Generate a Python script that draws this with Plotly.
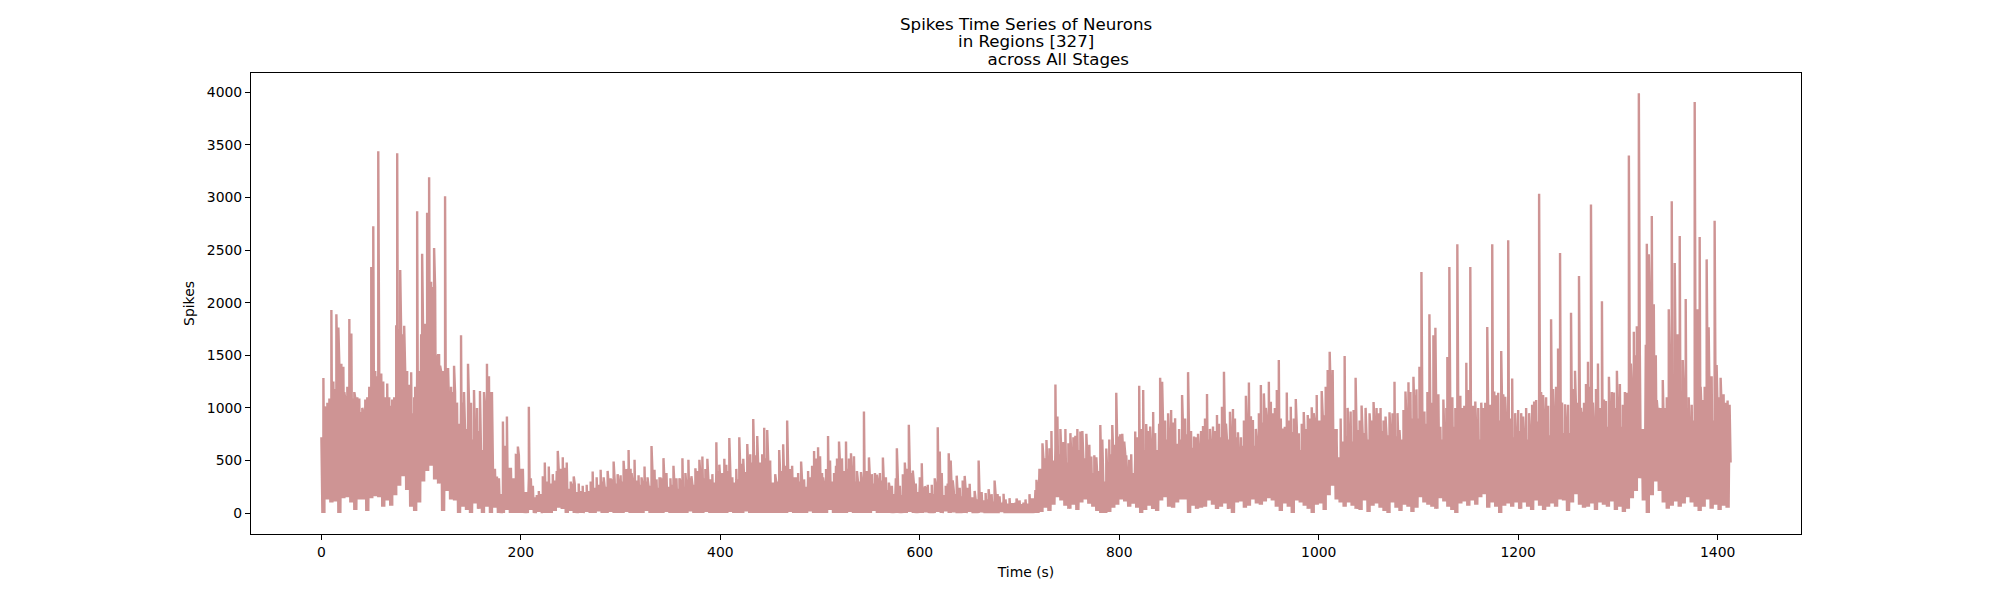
import plotly.graph_objects as go

title_lines = ["Spikes Time Series of Neurons", "in Regions [327]",
               "\u00a0" * 12 + "across All Stages"]
x_label = "Time (s)"
y_label = "Spikes"
x_ticks = [0, 200, 400, 600, 800, 1000, 1200, 1400]
y_ticks = [0, 500, 1000, 1500, 2000, 2500, 3000, 3500, 4000]

# Solid band of the trace, read every 4 s: top of the band ...
band_top = [
    720,1010,1050,1180,1400,1390,1080,1130,1090,1020,960,1040,1200,1350,1300,1180,1040,1020,1030,1750,1700,1350,1000,950,1350,
    1700,1800,2200,2150,1500,1350,1250,1000,1150,850,1050,800,1050,700,780,600,1000,1150,420,330,180,640,430,330,550,
    420,200,330,150,170,180,300,280,310,400,420,430,230,280,200,210,200,210,240,270,300,250,270,320,280,
    300,350,420,290,310,270,300,260,380,240,330,290,250,270,230,300,250,330,270,310,360,330,320,290,400,
    300,340,400,290,320,420,310,420,480,430,340,520,500,290,300,380,330,420,340,290,300,250,340,390,430,
    380,270,440,300,450,470,400,420,350,300,300,330,330,280,300,310,280,220,180,330,170,290,400,290,200,
    280,240,190,180,260,330,170,280,220,180,160,220,170,150,130,150,120,130,110,180,100,120,90,95,100,
    85,100,90,140,220,420,520,430,500,620,560,500,480,520,560,600,520,530,380,350,400,300,380,560,650,
    520,560,350,380,520,620,600,650,620,600,850,820,700,760,660,700,800,750,620,550,590,640,700,620,640,
    720,740,700,720,720,520,640,820,680,640,820,860,880,820,780,850,620,760,770,820,600,700,720,780,860,
    880,930,1000,1150,800,530,680,730,680,760,790,760,700,780,820,760,780,740,760,730,620,700,880,900,920,
    900,800,850,880,790,820,700,780,860,820,860,740,1050,820,760,700,770,900,820,880,880,950,850,780,720,
    780,720,700,760,860,870,880,780,740,900,1050,760,820,760,1000,880,780,920,1000,820,860,820,820,880,860,
    900,820,780,1100,1500,1500,800,1600,2000,1500,950,820,880,1350,1250,1400,1150,1000,780,880,1100,940,1150,1000,880,
    950,1000,960,
]
# ... and bottom of the band
band_bottom = [
    0,130,100,110,0,140,150,100,30,130,130,20,140,160,150,60,120,70,170,260,350,220,60,20,100,
    300,400,450,320,280,20,210,130,120,0,60,30,0,90,40,0,60,0,50,0,0,30,0,0,0,
    0,0,30,0,10,0,0,0,20,50,40,0,20,0,0,0,10,0,0,15,0,0,10,0,0,
    0,10,0,0,0,0,20,0,0,0,0,10,0,0,0,0,0,15,0,0,0,10,0,0,0,
    0,0,10,0,0,0,15,0,0,0,0,0,0,0,0,0,0,10,0,0,0,0,15,0,0,
    0,0,30,0,0,0,0,10,0,0,0,0,0,20,0,0,0,0,0,0,0,0,10,0,0,
    0,5,0,0,10,0,15,0,5,0,0,0,10,0,0,5,0,0,0,0,10,0,0,0,0,
    0,0,0,0,0,10,50,20,80,150,120,70,40,80,30,100,130,90,60,20,0,0,10,50,80,
    130,110,60,90,50,0,30,70,40,20,120,150,60,50,100,130,130,0,70,40,50,60,120,80,40,
    60,90,40,0,100,110,50,70,130,90,80,110,140,120,60,20,90,60,0,120,100,70,40,0,80,
    90,30,170,260,130,100,60,100,70,40,30,120,10,70,90,50,20,0,100,50,20,80,60,10,50,
    150,100,80,60,40,140,110,60,30,0,90,110,70,120,80,150,180,50,100,60,0,70,90,60,100,
    40,100,60,30,120,70,30,60,90,60,130,120,20,100,180,80,50,60,90,30,100,80,60,110,30,
    60,10,40,140,210,330,120,0,170,300,210,100,40,70,110,60,90,150,100,60,20,60,130,40,80,
    30,70,50,
]

# Tall individual peaks standing above the band
peak_times = [
    2,10,15,17,28,30,50,51,52,57,60,66,75,76,79,83,90,96,101,106,108,113,124,133,140,147,153,159,166,
    176,182,186,195,197,208,224,228,237,242,253,272,280,287,293,303,308,314,324,331,334,343,353,362,368,375,379,382,387,396,404,409,419,423,427,433,437,444,447,459,463,467,
    472,481,494,498,500,508,519,526,531,534,544,549,557,563,569,577,585,589,593,602,605,618,620,629,631,637,643,645,650,659,669,675,684,690,697,710,717,
    723,727,730,736,738,741,744,749,754,756,761,767,772,777,781,787,793,797,799,803,807,810,816,820,824,827,831,834,841,843,849,852,856,863,869,875,879,884,888,894,898,903,905,911,914,919,927,930,934,942,945,950,952,958,960,964,968,972,977,980,985,989,993,998,
    1003,1007,1009,1011,1014,1018,1026,1032,1037,1043,1051,1055,1058,1062,1067,1071,1076,1081,1087,1090,1095,1098,1101,1103,1106,1111,1115,1117,1120,1128,1129,1131,1139,1142,1148,1152,1157,1165,1169,1174,1176,1180,1183,1187,1190,1194,1200,1205,
    1218,1221,1225,1233,1235,1240,1242,1247,1253,1257,1261,1265,1268,1270,1273,1280,1284,1288,1291,1296,1299,1302,1309,1311,1313,1316,1319,1321,1329,1331,1334,1336,1339,1345,1351,1354,1357,1362,1365,1368,1374,1377,1380,1382,1385,1389,1391,1397,1399,1403,1406,1410,
]
peak_values = [
    1285,1930,1890,1765,1845,1707,2340,1834,2726,3440,1328,1232,1785,3420,2310,1780,1338,2870,2466,2856,3194,2520,3013,1400,1690,1420,1170,1160,1420,
    348,870,917,552,632,1010,480,442,591,530,348,395,411,401,490,497,600,506,442,638,411,522,450,522,506,426,506,538,516,673,516,713,720,516,657,895,733,812,790,600,655,879,
    450,490,590,625,540,733,680,680,568,540,965,529,364,529,290,617,481,840,404,474,252,816,585,569,500,356,309,353,278,500,227,309,183,142,139,180,316,
    664,695,616,1222,917,800,675,664,720,736,775,753,537,530,838,614,838,1144,727,753,550,506,775,1211,1170,847,822,961,1286,1248,948,980,901,1122,1340,727,753,828,1132,822,932,1011,1343,964,990,768,1116,1242,885,1217,1138,1249,1059,1170,1455,805,1147,1011,1085,758,961,932,1006,1122,
    1160,1200,1360,1533,1360,695,1493,965,1287,1022,948,1055,1000,1000,917,958,1248,790,1155,1243,1296,1176,1391,2293,965,1891,1690,1761,1130,1000,1485,2340,2555,1115,1430,2340,1060,1000,1770,2555,1155,1145,1540,1105,2593,1280,980,917,
    1075,3036,1122,1843,1180,1565,2473,1034,1904,1353,2255,964,1227,1439,2934,1422,2014,1065,1295,1147,1353,1227,1144,3399,1422,1723,1777,3991,2561,2460,2824,1986,1075,1265,1938,2965,2378,2634,1455,2036,1030,3908,1938,2625,1075,2412,1767,2780,1407,1287,1130,1070,
]

# Smaller teeth along the top edge of the band
minor_times = [
    3,6,8,12,20,23,26,33,36,38,41,44,46,62,64,68,71,73,86,88,93,94,117,119,122,127,130,136,143,150,156,163,168,171,
    212,218,222,232,246,250,258,262,266,270,276,283,290,297,300,306,311,318,321,327,336,339,346,350,356,359,365,371,377,385,392,399,
    402,406,412,416,421,425,430,435,440,442,450,455,462,465,470,476,478,484,488,492,496,503,506,510,514,517,522,529,533,537,541,547,552,555,560,566,572,580,583,587,592,596,
    600,608,612,615,622,626,633,640,648,655,662,666,672,680,686,700,706,
    732,746,751,758,763,770,775,783,790,801,805,812,818,822,829,836,846,854,860,866,872,877,882,886,891,896,900,907,916,922,925,932,937,940,947,954,956,962,966,970,975,983,987,991,995,
    1022,1029,1035,1041,1047,1053,1060,1065,1074,1079,1085,1092,1097,1109,1113,1119,1125,1134,1137,1144,1146,1150,1155,1160,1163,1167,1172,1178,1185,1192,1197,
    1203,1208,1211,1214,1216,1223,1228,1230,1238,1244,1250,1255,1259,1263,1266,1271,1275,1278,1282,1286,1294,1298,1301,1305,1307,
    1341,1343,1347,1349,1359,1360,1371,1378,1383,1387,1394,1401,1408,1412,1413,
]
minor_values = [
    1000,1050,1090,1250,1420,1150,1200,1150,1100,1090,1000,1080,1100,1250,1100,1100,1080,1100,1200,1220,1100,1200,1500,1400,1300,1380,1200,1050,1150,1040,1000,1150,1300,1150,
    260,210,350,370,480,300,280,260,270,300,340,340,330,370,360,420,380,360,340,340,320,330,380,330,330,330,380,350,400,420,370,460,
    380,460,340,420,470,390,560,550,480,560,460,370,400,450,380,340,380,320,400,450,520,340,420,500,380,520,520,520,450,400,390,400,370,380,380,340,260,260,370,420,380,280,
    340,270,270,330,380,260,310,240,240,210,200,190,180,160,130,120,130,
    780,800,760,800,780,650,550,700,700,750,680,560,720,800,780,760,880,860,800,900,780,720,780,900,800,780,850,850,900,720,880,920,800,950,1000,950,1000,900,820,880,900,850,800,900,950,
    900,1000,980,880,1000,880,950,880,950,950,980,1150,1120,1150,1050,1000,1080,1100,1000,1000,1020,1170,1020,1000,1050,1050,1030,1120,1130,900,950,
    950,1000,950,1030,1060,1150,1100,1020,1200,1050,1030,1180,1050,1000,1050,1200,1050,1180,1000,1080,1150,1000,1100,1030,1150,
    1000,1000,1000,1100,1500,1700,1100,1100,1200,1200,1300,1100,1050,1030,480,
]

# Merge the band (crossed twice per 4 s cell so it prints solid) and the peaks
points = []
for i, (top, bottom) in enumerate(zip(band_top, band_bottom)):
    points.append((4 * i, 0, top))
    points.append((4 * i + 1, 0, bottom))
    points.append((4 * i + 2, 0, top))
    points.append((4 * i + 3, 0, bottom))
for t, v in zip(peak_times + minor_times, peak_values + minor_values):
    points.append((t, 1, v))
points.sort(key=lambda p: (p[0], p[1]))

fig = go.Figure(go.Scatter(
    x=[p[0] for p in points], y=[p[2] for p in points], mode="lines",
    line=dict(color="#CE9494", width=2.4, simplify=False), hoverinfo="skip",
    showlegend=False))

axis_common = dict(showline=True, linecolor="black", linewidth=1.1, mirror=True,
                   showgrid=False, zeroline=False, ticks="outside", ticklen=5,
                   tickwidth=1.1, tickcolor="black",
                   tickfont=dict(size=13.9, color="black"))
fig.update_xaxes(range=[-70.6, 1483.6], tickvals=x_ticks, ticktext=[str(v) for v in x_ticks],
                 title=dict(text=x_label, font=dict(size=13.9, color="black"), standoff=8),
                 **axis_common)
fig.update_yaxes(range=[-199, 4184], tickvals=y_ticks, ticktext=[str(v) for v in y_ticks],
                 title=dict(text=y_label, font=dict(size=13.9, color="black"), standoff=8),
                 **axis_common)

for text, ypx in zip(title_lines, [15.5, 33, 50.5]):
    fig.add_annotation(text=text, xref="paper", yref="paper", x=0.5,
                       y=(526 - ypx) / 461.5, xanchor="center", yanchor="middle",
                       showarrow=False, font=dict(size=16.67, color="black"))

fig.update_layout(width=2000, height=600, paper_bgcolor="white", plot_bgcolor="white",
                  margin=dict(l=242.5, r=207, t=64.5, b=74, autoexpand=False),
                  font=dict(family="DejaVu Sans"))
fig.write_html("out.html")
